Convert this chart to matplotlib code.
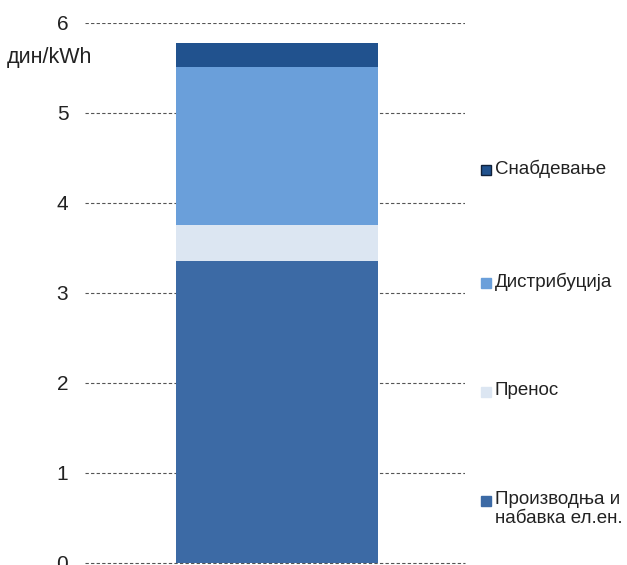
import matplotlib.pyplot as plt
from matplotlib.patches import Rectangle

plt.rcParams['font.family'] = ['Liberation Sans', 'DejaVu Sans']

# price components, din/kWh (bottom to top)
components = ["Производња и\nнабавка ел.ен.", "Пренос", "Дистрибуција", "Снабдевање"]
values = [3.36, 0.40, 1.75, 0.27]
colors = ["#3C6AA5", "#DCE6F2", "#6A9FDA", "#21528E"]
edges = [None, None, None, "#10213A"]
yticks = [0, 1, 2, 3, 4, 5, 6]

fig = plt.figure(figsize=(6.27, 5.65), dpi=100)
ax = fig.add_axes([85 / 627, 2 / 565, 380 / 627, 540 / 565])

bottom = 0
for v, c in zip(values, colors):
    ax.bar(0, v, width=0.53, bottom=bottom, color=c, zorder=3)
    bottom += v

ax.set_xlim(-0.505, 0.495)
ax.set_ylim(0, 6)
ax.set_yticks(yticks)
ax.set_xticks([])
ax.tick_params(axis='y', length=0, pad=12, labelsize=15, labelcolor='#222222')
for s in ax.spines.values():
    s.set_visible(False)
ax.yaxis.grid(True, linestyle=(0, (3, 2)), color='#555555', linewidth=0.8, zorder=0)
ax.yaxis.get_gridlines()[0].set_clip_on(False)

fig.text(7 / 627, 1 - 57 / 565, "дин/kWh", fontsize=15.5, va='center', ha='left', color='#222222')

# legend entries on the right, top entry first
legend_y = [501, 392, 283, 170]
for lab, c, e, y in zip(components, colors, edges, legend_y):
    fig.patches.append(Rectangle((481 / 627, 1 - (y + 5) / 565), 10 / 627, 10 / 565,
                                 transform=fig.transFigure, facecolor=c,
                                 edgecolor=e if e else c, linewidth=1))
    fig.text(495 / 627, 1 - (y - 10) / 565, lab, fontsize=13.5, va='top', ha='left',
             color='#222222', linespacing=1.15)

fig.savefig("out.png", dpi=100)
